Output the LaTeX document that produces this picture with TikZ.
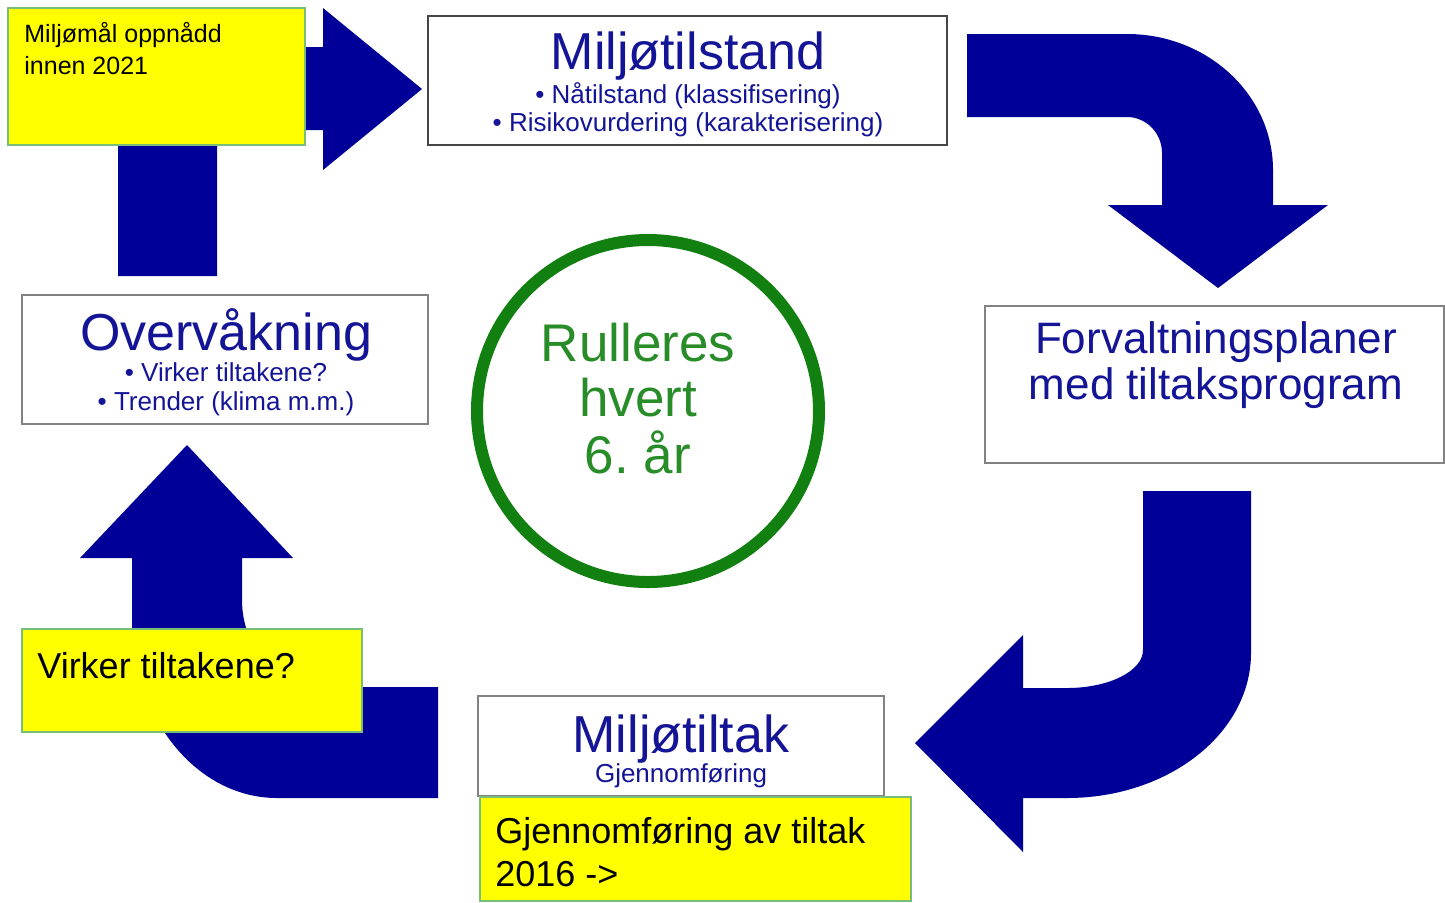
\documentclass[tikz,border=0pt]{standalone}
\usepackage{fontspec}
\setmainfont{Liberation Sans}
\definecolor{arrowblue}{RGB}{0,0,153}
\definecolor{textblue}{RGB}{20,20,150}
\definecolor{circgreen}{RGB}{17,128,17}
\definecolor{txtgreen}{RGB}{40,140,40}
\definecolor{ylw}{RGB}{255,255,0}
\definecolor{ybord}{RGB}{120,190,120}
\definecolor{gbord}{RGB}{130,130,130}
\definecolor{dbord}{RGB}{70,70,70}
\begin{document}
\begin{tikzpicture}[x=0.5pt,y=-0.5pt,
  blockarrow/.style={fill=arrowblue,draw=none},
  whitebox/.style={draw=gbord,line width=1pt,fill=white,inner sep=0pt},
  notebox/.style={draw=ybord,fill=ylw,line width=1pt,inner sep=0pt},
  bigtxt/.style={text=textblue,inner sep=0pt,anchor=base,font=\fontsize{26}{30}\selectfont},
  smalltxt/.style={text=textblue,inner sep=0pt,anchor=base,font=\fontsize{13}{15}\selectfont},
  midtxt/.style={text=textblue,inner sep=0pt,anchor=base,font=\fontsize{22}{26}\selectfont},
  circtxt/.style={text=txtgreen,inner sep=0pt,anchor=base,font=\fontsize{26.5}{30}\selectfont},
  notetxt/.style={text=black,inner sep=0pt,anchor=base west,font=\fontsize{18}{22}\selectfont},
  notetxtsmall/.style={text=black,inner sep=0pt,anchor=base west,font=\fontsize{12.5}{15}\selectfont}]
\useasboundingbox (0,0) rectangle (1445,902);
\fill[white] (0,0) rectangle (1445,902);

% block arrows
\fill[blockarrow] (118,276) -- (118,130)
  arc[start angle=180,end angle=270,x radius=82,y radius=83]
  -- (323,47) -- (323,8) -- (422,89) -- (323,170) -- (323,130) -- (230,130)
  arc[start angle=270,end angle=180,x radius=13,y radius=13]
  -- (217,276) -- cycle;
\fill[blockarrow] (967,34) -- (1127,34)
  arc[start angle=270,end angle=360,x radius=146,y radius=136]
  -- (1273,205) -- (1328,205) -- (1218,288) -- (1108,205) -- (1162,205) -- (1162,153)
  arc[start angle=0,end angle=-90,x radius=35,y radius=36]
  -- (967,117) -- cycle;
\fill[blockarrow] (1143,491) -- (1251,491) -- (1251,653)
  arc[start angle=0,end angle=90,x radius=184,y radius=145]
  -- (1023,798) -- (1023,852) -- (915,743) -- (1023,635) -- (1023,688) -- (1067,688)
  arc[start angle=90,end angle=0,x radius=76,y radius=38]
  -- cycle;
\fill[blockarrow] (438,687) -- (320,687)
  arc[start angle=90,end angle=180,x radius=78,y radius=87]
  -- (242,558) -- (293,558) -- (187,445) -- (80,558) -- (132,558) -- (132,620)
  arc[start angle=180,end angle=90,x radius=145,y radius=178]
  -- (438,798) -- cycle;

% white boxes
\node[whitebox,draw=dbord,minimum width=259.5pt,minimum height=64.5pt] (mt) at (687.5,80.5) {};
\node[whitebox,minimum width=203pt,minimum height=64.5pt] (ov) at (225,359.5) {};
\node[whitebox,minimum width=229.5pt,minimum height=78.5pt] (fp) at (1214.5,384.5) {};
\node[whitebox,minimum width=203pt,minimum height=50pt] (mk) at (681,746) {};

\node[bigtxt] (mtT) at (688,69) {Miljøtilstand};
\node[smalltxt] (mt1) at (688,103) {• Nåtilstand (klassifisering)};
\node[smalltxt] (mt2) at (688,131) {• Risikovurdering (karakterisering)};

\node[bigtxt] (ovT) at (226,350) {Overvåkning};
\node[smalltxt] (ov1) at (226,381) {• Virker tiltakene?};
\node[smalltxt] (ov2) at (226,410) {• Trender (klima m.m.)};

\node[midtxt] (fp1) at (1216,353) {Forvaltningsplaner};
\node[midtxt] (fp2) at (1216,399) {med tiltaksprogram};

\node[bigtxt] (mkT) at (681,752) {Miljøtiltak};
\node[smalltxt] (mk1) at (681,782) {Gjennomføring};

% circle
\node[circle,draw=circgreen,line width=6pt,minimum size=171pt,inner sep=0pt] (circ) at (648,411) {};
\node[circtxt] (c1) at (638,361) {Rulleres};
\node[circtxt] (c2) at (638,416) {hvert};
\node[circtxt] (c3) at (638,473) {6.\ år};

% yellow notes
\node[notebox,minimum width=148.5pt,minimum height=68.5pt] (y1) at (156.5,76.5) {};
\node[notetxtsmall] (y1a) at (24,42) {Miljømål oppnådd};
\node[notetxtsmall] (y1b) at (24,74) {innen 2021};

\node[notebox,minimum width=170pt,minimum height=51.5pt] (y2) at (192,680.5) {};
\node[notetxt] (y2a) at (37,678) {Virker tiltakene?};

\node[notebox,minimum width=215.5pt,minimum height=52pt] (y3) at (695.5,849) {};
\node[notetxt] (y3a) at (495,843) {Gjennomføring av tiltak};
\node[notetxt] (y3b) at (495,886) {2016 ->};
\end{tikzpicture}
\end{document}
